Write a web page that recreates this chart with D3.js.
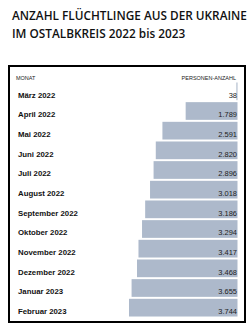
<!DOCTYPE html>
<html><head><meta charset="utf-8">
<script src="https://cdn.jsdelivr.net/npm/d3@7"></script>
<style>body{margin:0;background:#fff}svg{display:block}</style>
</head><body>
<script>
const months = ["März 2022","April 2022","Mai 2022","Juni 2022","Juli 2022","August 2022","September 2022","Oktober 2022","November 2022","Dezember 2022","Januar 2023","Februar 2023"];
const persons = [38,1789,2591,2820,2896,3018,3186,3294,3417,3468,3655,3744];
const valueLabels = ["38","1.789","2.591","2.820","2.896","3.018","3.186","3.294","3.417","3.468","3.655","3.744"];
const titleLines = ["ANZAHL FLÜCHTLINGE AUS DER UKRAINE","IM OSTALBKREIS 2022 bis 2023"];
const headers = ["MONAT","PERSONEN-ANZAHL"];

const W=248,H=325;
const svg=d3.select("body").append("svg").attr("width",W).attr("height",H);
const font="'Liberation Sans', Arial, sans-serif";
const tfont="'Open Sans', sans-serif";

svg.selectAll("text.title").data(titleLines).join("text")
  .attr("x",12).attr("y",(d,i)=>19.5+i*18.2)
  .attr("font-family",tfont).attr("font-weight",600).attr("font-size",11.8)
  .attr("fill","#111").text(d=>d);

svg.append("rect").attr("x",9).attr("y",66).attr("width",236).attr("height",256)
  .attr("fill","none").attr("stroke","#000").attr("stroke-width",2);

svg.append("text").attr("x",16).attr("y",80).attr("font-family",font).attr("font-size",5.5)
  .attr("fill","#222").text(headers[0]);
svg.append("text").attr("x",236).attr("y",80).attr("text-anchor","end").attr("font-family",font).attr("font-size",5.5)
  .attr("fill","#222").text(headers[1]);

const right=237.5;
const x=d3.scaleLinear().domain([0,3744]).range([0,108.5]);
const y=d3.scaleBand().domain(months).range([81.5,317.5]).paddingInner(0.1).paddingOuter(0.05);

svg.selectAll("rect.bar").data(persons).join("rect").attr("class","bar")
  .attr("x",d=>right-x(d)).attr("y",(d,i)=>y(months[i]))
  .attr("width",d=>x(d)).attr("height",y.bandwidth()).attr("fill","#adb9cb");

svg.selectAll("text.m").data(months).join("text").attr("class","m")
  .attr("x",18).attr("y",d=>y(d)+y.bandwidth()-2.5)
  .attr("font-family",font).attr("font-weight","bold").attr("font-size",7.8)
  .attr("fill","#111").text(d=>d);

svg.selectAll("text.v").data(valueLabels).join("text").attr("class","v")
  .attr("x",237).attr("y",(d,i)=>y(months[i])+y.bandwidth()-2.5).attr("text-anchor","end")
  .attr("font-family",font).attr("font-size",7.5)
  .attr("fill","#222").text(d=>d);
</script>
</body></html>
